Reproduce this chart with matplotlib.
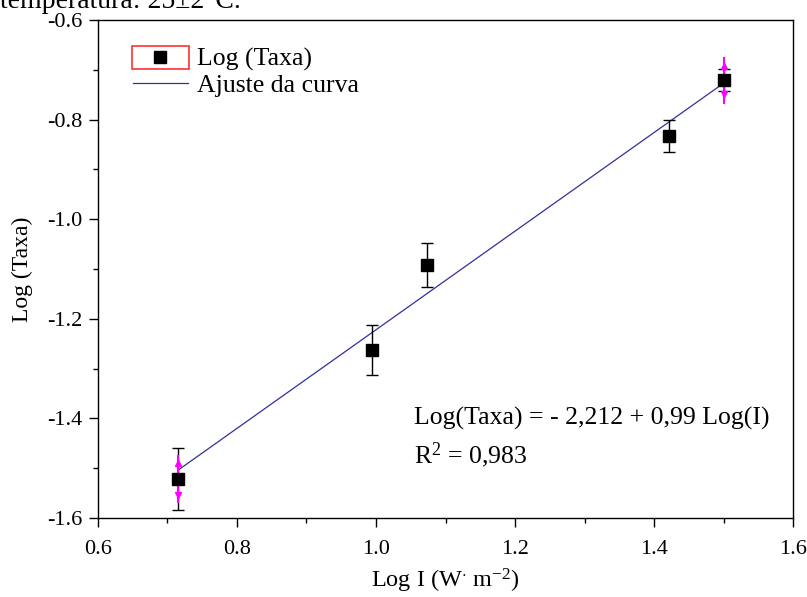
import matplotlib.pyplot as plt
import numpy as np
from matplotlib.patches import Rectangle
from matplotlib.ticker import MultipleLocator

plt.rcParams['font.family'] = ['Liberation Serif', 'DejaVu Serif']
plt.rcParams['mathtext.fontset'] = 'custom'
plt.rcParams['mathtext.rm'] = 'Liberation Serif'
plt.rcParams['mathtext.it'] = 'Liberation Serif:italic'

# data
log_i = [0.715, 0.994, 1.073, 1.421, 1.501]
log_taxa = [-1.522, -1.263, -1.092, -0.833, -0.721]
err = [0.062, 0.050, 0.044, 0.033, 0.022]
# magenta double arrows on the end points
arrow_err = [0.046, 0.0, 0.0, 0.0, 0.045]
arrow_head = [0.032, 0.0, 0.0, 0.0, 0.028]

intercept = -2.212
slope = 0.99
r2 = '0,983'

C_FIT = '#30309e'
C_MAG = '#ff00ff'

fig = plt.figure(figsize=(8.07, 5.97), dpi=100)
ax = fig.add_axes([0.1214, 0.1323, 0.8613, 0.8342])

# fit line
xf = np.array([log_i[0], log_i[-1]])
fit_line, = ax.plot(xf, intercept + slope * xf, color=C_FIT, lw=0.9, zorder=2)

# magenta arrows
for x, y, e, h in zip(log_i, log_taxa, arrow_err, arrow_head):
    if e > 0:
        ax.plot([x, x], [y - e, y + e], color=C_MAG, lw=1.5, zorder=4)
        ax.plot([x], [y + h], marker='^', ms=5, color=C_MAG, zorder=5)
        ax.plot([x], [y - h], marker='v', ms=5, color=C_MAG, zorder=5)

# data with error bars
ax.errorbar(log_i, log_taxa, yerr=err, fmt='none', ecolor='black',
            elinewidth=1, capsize=4, capthick=1, zorder=3)
pts, = ax.plot(log_i, log_taxa, 's', color='black', ms=9, zorder=4,
               linestyle='none')

ax.set_xlim(0.6, 1.6)
ax.set_ylim(-1.6, -0.6)
ax.xaxis.set_major_locator(MultipleLocator(0.2))
ax.yaxis.set_major_locator(MultipleLocator(0.2))
ax.xaxis.set_minor_locator(MultipleLocator(0.1))
ax.yaxis.set_minor_locator(MultipleLocator(0.1))
ax.xaxis.set_major_formatter(plt.FormatStrFormatter('%.1f'))
ax.yaxis.set_major_formatter(plt.FormatStrFormatter('%.1f'))
ax.tick_params(which='major', direction='out', length=6.5, width=1,
               labelsize=16, top=False, right=False, pad=5)
ax.tick_params(axis='x', which='major', pad=9)
ax.tick_params(which='minor', direction='out', length=3.5, width=1,
               top=False, right=False)
for s in ax.spines.values():
    s.set_linewidth(1)

ax.set_xlabel('Log I (W$^{\\cdot}$ m$^{-2}$)', fontsize=17.5, labelpad=6)
ax.set_ylabel('Log (Taxa)', fontsize=17, labelpad=10)

leg = ax.legend([pts, fit_line], ['Log (Taxa)', 'Ajuste da curva'],
                loc='upper left', bbox_to_anchor=(0.050, 0.944),
                frameon=False, fontsize=18.5, handlelength=2.15,
                handletextpad=0.35, labelspacing=0.12, borderaxespad=0,
                borderpad=0)
ax.add_patch(Rectangle((0.049, 0.902), 0.082, 0.046, transform=ax.transAxes,
                       fill=False, edgecolor='#ff3030', lw=1.2, zorder=6))

ax.text(0.455, 0.2008, 'Log(Taxa) = - 2,212 + 0,99 Log(I)',
        transform=ax.transAxes, fontsize=18.5, va='center')
ax.text(0.455, 0.1265, 'R$^{2}$ = ' + r2, transform=ax.transAxes,
        fontsize=18.5, va='center')

fig.text(0.0, 1 - 8 / 597, 'temperatura: 25±2°C.', fontsize=20,
         va='baseline', ha='left')

fig.savefig('out.png', dpi=100)
